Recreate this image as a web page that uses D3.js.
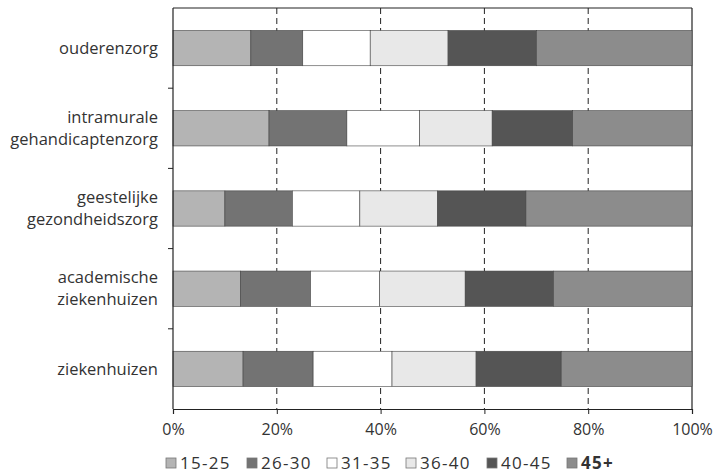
<!DOCTYPE html>
<html>
<head>
<meta charset="utf-8">
<script src="https://cdn.jsdelivr.net/npm/d3@7"></script>
<style>
  html, body { margin: 0; padding: 0; background: #fff; }
  svg { display: block; }
  text { font-family: "Open Sans", "DejaVu Sans", sans-serif; fill: #333; }
</style>
</head>
<body>
<svg id="chart" width="718" height="475"></svg>
<script>
// ---- data ----
const categories = [
  ["ouderenzorg"],
  ["intramurale", "gehandicaptenzorg"],
  ["geestelijke", "gezondheidszorg"],
  ["academische", "ziekenhuizen"],
  ["ziekenhuizen"]
];
const categoryKeys = ["ouderenzorg", "intramurale gehandicaptenzorg", "geestelijke gezondheidszorg", "academische ziekenhuizen", "ziekenhuizen"];
const seriesNames = ["15-25", "26-30", "31-35", "36-40", "40-45", "45+"];
const v15_25 = [15, 18.5, 10, 13, 13.5];
const v26_30 = [10, 15, 13, 13.5, 13.5];
const v31_35 = [13, 14, 13, 13.3, 15.2];
const v36_40 = [15, 14, 15, 16.5, 16.2];
const v40_45 = [17, 15.5, 17, 17, 16.4];
const v45plus = [30, 23, 32, 26.7, 25.2];
const xTicks = [0, 20, 40, 60, 80, 100];
const xTickLabels = ["0%", "20%", "40%", "60%", "80%", "100%"];
const colors = ["#b4b4b4", "#737373", "#ffffff", "#e8e8e8", "#555555", "#8c8c8c"];

const seriesValues = [v15_25, v26_30, v31_35, v36_40, v40_45, v45plus];
const rows = categoryKeys.map((k, i) => {
  const r = { key: k };
  seriesNames.forEach((s, j) => r[s] = seriesValues[j][i]);
  return r;
});

// ---- layout ----
const svg = d3.select("#chart");
const pLeft = 173, pRight = 692, pTop = 8, pBottom = 409;
const x = d3.scaleLinear().domain([0, 100]).range([pLeft, pRight]);
const y = d3.scaleBand().domain(categoryKeys).range([pTop, pBottom]).paddingInner(0.56).paddingOuter(0.28);

// gridlines (dashed)
svg.append("g").selectAll("line")
  .data(xTicks.filter(t => t > 0 && t < 100))
  .join("line")
  .attr("x1", d => x(d)).attr("x2", d => x(d))
  .attr("y1", pTop).attr("y2", pBottom)
  .attr("stroke", "#222").attr("stroke-width", 1)
  .attr("stroke-dasharray", "6,4");

// frame top & right
svg.append("line").attr("x1", pLeft).attr("x2", x(100)).attr("y1", pTop).attr("y2", pTop)
  .attr("stroke", "#222").attr("stroke-width", 1.2);
svg.append("line").attr("x1", x(100)).attr("x2", x(100)).attr("y1", pTop).attr("y2", pBottom)
  .attr("stroke", "#222").attr("stroke-width", 1.2);

// bars
const stack = d3.stack().keys(seriesNames)(rows);
const color = d3.scaleOrdinal().domain(seriesNames).range(colors);
svg.append("g").selectAll("g")
  .data(stack)
  .join("g")
  .attr("fill", d => color(d.key))
  .selectAll("rect")
  .data(d => d)
  .join("rect")
  .attr("x", d => x(d[0]))
  .attr("width", d => x(d[1]) - x(d[0]))
  .attr("y", d => y(d.data.key))
  .attr("height", y.bandwidth())
  .attr("stroke", "#444")
  .attr("stroke-width", 0.6);

// y axis
const yAxis = svg.append("g").attr("transform", `translate(${pLeft},0)`);
yAxis.append("line").attr("x1", 0).attr("x2", 0).attr("y1", pTop).attr("y2", pBottom)
  .attr("stroke", "#222").attr("stroke-width", 1.2);
const step = y.step();
const boundaries = categoryKeys.slice(1).map(k => y(k) - step * y.paddingInner() / 2);
yAxis.selectAll("line.tick").data(boundaries).join("line").attr("class", "tick")
  .attr("x1", -5).attr("x2", 0).attr("y1", d => d).attr("y2", d => d)
  .attr("stroke", "#222");

// category labels
const labels = svg.append("g");
categories.forEach((lines, i) => {
  const cy = y(categoryKeys[i]) + y.bandwidth() / 2;
  const n = lines.length;
  lines.forEach((ln, j) => {
    labels.append("text")
      .attr("x", 158)
      .attr("y", cy + (j - (n - 1) / 2) * 22)
      .attr("dy", "0.35em")
      .attr("text-anchor", "end")
      .style("font-size", "16.5px")
      .text(ln);
  });
});

// x axis
const xAxis = d3.axisBottom(x).tickValues(xTicks).tickFormat((d, i) => xTickLabels[i])
  .tickSize(5).tickPadding(10);
const gx = svg.append("g").attr("transform", `translate(0,${pBottom})`).call(xAxis);
gx.select(".domain").attr("stroke", "#222").attr("stroke-width", 1.2);
gx.selectAll(".tick line").attr("stroke", "#222");
gx.selectAll(".tick text").style("font-size", "16px").attr("fill", "#333");

// legend
const legendX = [166, 247, 327, 406, 487, 567];
const legend = svg.append("g").attr("transform", "translate(0,463)");
seriesNames.forEach((s, i) => {
  legend.append("rect").attr("x", legendX[i]).attr("y", -5).attr("width", 10).attr("height", 10)
    .attr("fill", colors[i]).attr("stroke", "#777").attr("stroke-width", 0.8);
  legend.append("text").attr("x", legendX[i] + 14).attr("y", 0).attr("dy", "0.35em")
    .style("font-size", "17px")
    .style("letter-spacing", "1.3px")
    .style("font-weight", s === "45+" ? "bold" : "normal")
    .text(s);
});
</script>
</body>
</html>
